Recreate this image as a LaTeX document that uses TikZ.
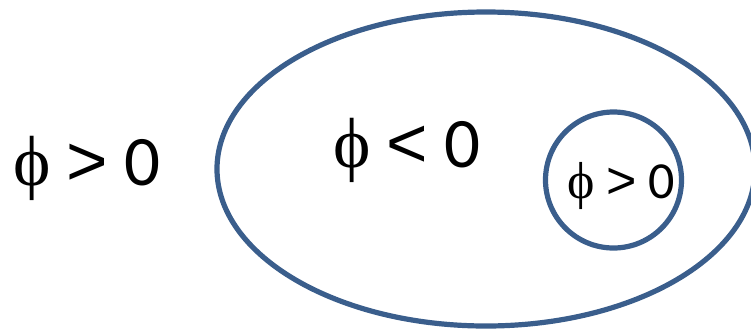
\documentclass[tikz,border=0pt]{standalone}
\usepackage{fontspec}
\setmainfont{Carlito}
\newfontfamily\phifont{Liberation Serif}
\newfontfamily\relfont{Liberation Sans}
\newcommand{\myphi}{{\phifont ϕ}}
\newcommand{\mygt}{{\relfont >}}
\newcommand{\mylt}{{\relfont <}}
\definecolor{ringblue}{RGB}{58,94,140}
\begin{document}
\begin{tikzpicture}[x=1pt,y=1pt,
  ring/.style={draw=ringblue,line width=5.2pt},
  bigtxt/.style={anchor=base west,inner sep=0pt,font=\fontsize{71}{80}\selectfont},
  smalltxt/.style={anchor=base west,inner sep=0pt,font=\fontsize{52}{60}\selectfont}]
\useasboundingbox (0,0) rectangle (751,-330);
\begin{scope}
\clip (0,0) rectangle (751,-330);
\draw[ring] (486,-169) ellipse [x radius=269, y radius=157];
\end{scope}
\node[ring,circle,minimum size=136pt,inner sep=0pt] (inner) at (613.5,-180) {};
\node[bigtxt] (outer) at (13,-185) {\myphi{} \mygt{} 0};
\node[bigtxt] (mid) at (333,-167) {\myphi{} \mylt{} 0};
\node[smalltxt] (innertxt) at (567,-198) {\myphi{} \mygt{} 0};
\end{tikzpicture}
\end{document}
